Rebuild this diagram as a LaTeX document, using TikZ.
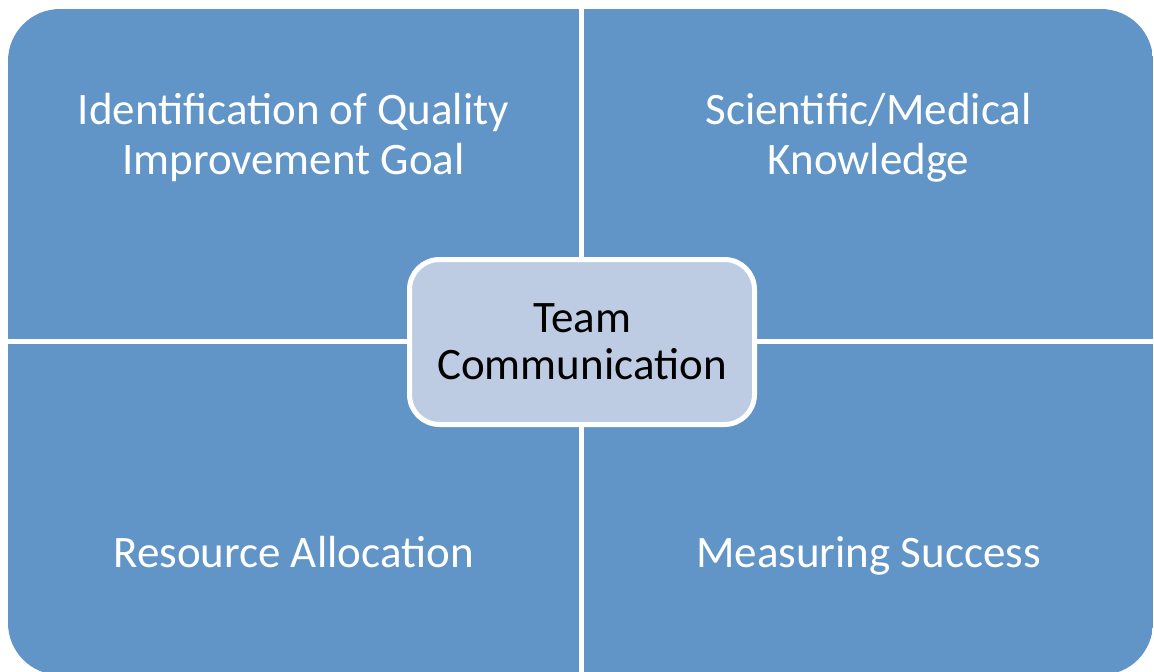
\documentclass[tikz,border=0pt]{standalone}
\usepackage{fontspec}
\setmainfont{Carlito}
\usepackage{tikz}
\usetikzlibrary{positioning}
\definecolor{quadblue}{RGB}{97,149,200}
\definecolor{hubblue}{RGB}{189,204,227}

\tikzset{
  quadtext/.style={text=white, align=center, font=\fontsize{45}{50}\selectfont, anchor=base},
  hub/.style={draw=white, line width=5pt, fill=hubblue, rounded corners=30pt,
              minimum width=345pt, minimum height=165pt, align=center,
              font=\fontsize{45}{47}\selectfont, text=black}
}

\begin{document}
\begin{tikzpicture}[x=1pt, y=-1pt]
\useasboundingbox (0,0) rectangle (1154,672);
% Four quadrants cut out of one rounded block
\begin{scope}
  \clip[rounded corners=52pt] (8,9) rectangle (1153,675);
  \foreach \xa/\ya/\xb/\yb in {8/9/579/339, 584/9/1153/339, 8/344/579/675, 584/344/1153/675} {
    \fill[quadblue] (\xa,\ya) rectangle (\xb,\yb);
  }
\end{scope}
% Quadrant labels (base = last line)
\node[quadtext] (goal) at (293.5,174) {Identification of Quality\\Improvement Goal};
\node[quadtext] (knowledge) at (868.5,174) {Scientific/Medical\\Knowledge};
\node[quadtext] (resources) at (293.5,567) {Resource Allocation};
\node[quadtext] (success) at (868.5,567) {Measuring Success};
% Centre box
\node[hub] (team) at (582,342) {Team\\Communication};
\end{tikzpicture}
\end{document}
